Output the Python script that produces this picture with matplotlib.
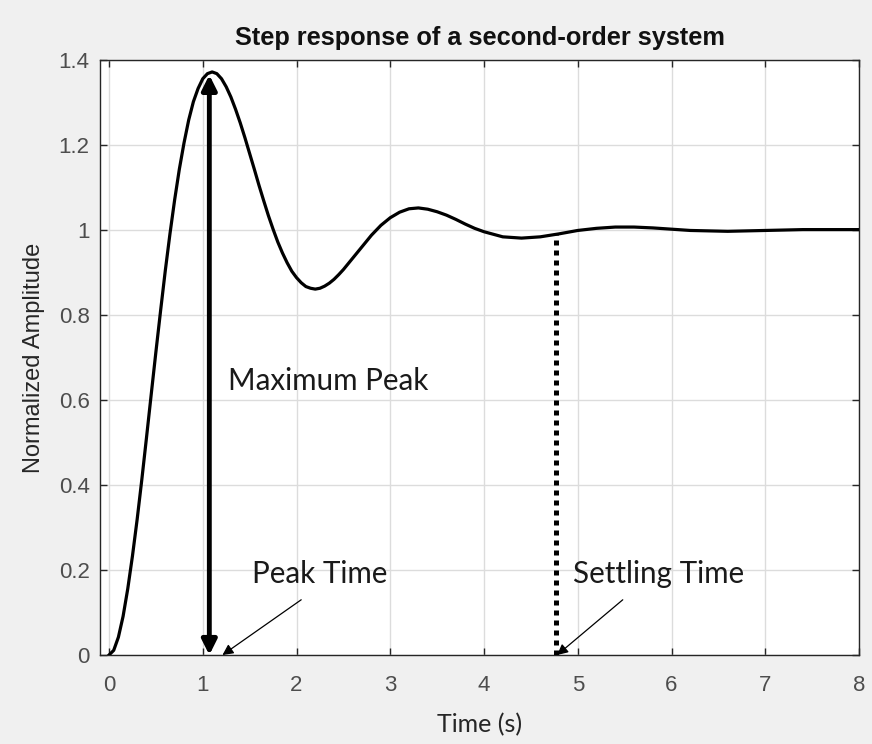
import matplotlib
matplotlib.use("Agg")
import matplotlib.pyplot as plt

# step response samples
t = [0.0, 0.05, 0.1, 0.15, 0.2, 0.25, 0.3, 0.35, 0.4, 0.45,
     0.5, 0.55, 0.6, 0.65, 0.7, 0.75, 0.8, 0.85, 0.9, 0.95,
     1.0, 1.05, 1.1, 1.15, 1.2, 1.25, 1.3, 1.35, 1.4, 1.45,
     1.5, 1.55, 1.6, 1.65, 1.7, 1.75, 1.8, 1.85, 1.9, 1.95,
     2.0, 2.05, 2.1, 2.15, 2.2, 2.25, 2.3, 2.35, 2.4, 2.45,
     2.5, 2.6, 2.7, 2.8, 2.9, 3.0, 3.1, 3.2, 3.3, 3.4,
     3.5, 3.6, 3.7, 3.8, 3.9, 4.0, 4.2, 4.4, 4.6, 4.8,
     5.0, 5.2, 5.4, 5.6, 5.8, 6.0, 6.2, 6.4, 6.6, 6.8,
     7.0, 7.2, 7.4, 7.6, 7.8, 8.0]
amp = [0.0, 0.011, 0.042, 0.091, 0.156, 0.233, 0.319, 0.413, 0.512, 0.613,
       0.713, 0.810, 0.904, 0.991, 1.071, 1.143, 1.205, 1.259, 1.302, 1.333,
       1.356, 1.368, 1.372, 1.368, 1.356, 1.337, 1.313, 1.284, 1.252, 1.217,
       1.180, 1.143, 1.105, 1.069, 1.034, 1.002, 0.972, 0.946, 0.923, 0.903,
       0.888, 0.876, 0.867, 0.863, 0.861, 0.863, 0.868, 0.875, 0.884, 0.895,
       0.907, 0.934, 0.961, 0.988, 1.011, 1.029, 1.042, 1.050, 1.052, 1.049,
       1.043, 1.035, 1.025, 1.014, 1.004, 0.996, 0.984, 0.981, 0.984, 0.991,
       0.999, 1.004, 1.007, 1.007, 1.005, 1.002, 0.999, 0.998, 0.997, 0.998,
       0.999, 1.000, 1.001, 1.001, 1.001, 1.001]

peak_t = 1.07
peak_amp = 1.365
settle_t = 4.77
settle_amp = 0.99

x_ticks = [0, 1, 2, 3, 4, 5, 6, 7, 8]
y_ticks = [0, 0.2, 0.4, 0.6, 0.8, 1.0, 1.2, 1.4]
y_labels = ["0", "0.2", "0.4", "0.6", "0.8", "1", "1.2", "1.4"]

fig = plt.figure(figsize=(8.72, 7.44), dpi=100, facecolor="#f0f0f0")
ax = fig.add_axes([0.1147, 0.1196, 0.8704, 0.7997])
ax.set_facecolor("white")

ax.plot(t, amp, color="black", lw=2.3, solid_joinstyle="round", zorder=3)

# maximum peak double arrow
ax.annotate("", xy=(peak_t, peak_amp), xytext=(peak_t, 0.0),
            arrowprops=dict(arrowstyle="<|-|>", color="black", lw=3.5,
                            mutation_scale=22, shrinkA=0, shrinkB=0), zorder=4)
# settling time dotted line
ax.plot([settle_t, settle_t], [0, settle_amp], color="black", lw=3.6,
        linestyle=(0, (1, 1)), zorder=4)

ann_font = dict(family=["Lato", "DejaVu Sans"], fontsize=21.3, color="#1a1a1a")
ax.text(1.27, 0.645, "Maximum Peak", va="center", ha="left", **ann_font)
ax.text(1.52, 0.19, "Peak Time", va="center", ha="left", **ann_font)
ax.text(4.95, 0.19, "Settling Time", va="center", ha="left", **ann_font)

thin = dict(arrowstyle="-|>", color="black", lw=0.9, mutation_scale=16,
            shrinkA=0, shrinkB=0)
ax.annotate("", xy=(1.21, 0.0), xytext=(2.05, 0.13), arrowprops=thin, zorder=4)
ax.annotate("", xy=(4.78, 0.0), xytext=(5.48, 0.13), arrowprops=thin, zorder=4)

ax.set_xlim(-0.096, 8)
ax.set_ylim(0, 1.4)
ax.set_xticks(x_ticks)
ax.set_yticks(y_ticks)
ax.set_yticklabels(y_labels)
ax.grid(True, color="#dcdcdc", lw=1.0)
ax.set_axisbelow(True)
ax.tick_params(direction="in", top=True, right=True, length=5, width=1,
               colors="#262626", labelcolor="#4d4d4d", labelsize=16)
ax.tick_params(axis="y", pad=7.5)
ax.tick_params(axis="x", pad=14.5)
for lab in ax.get_xticklabels() + ax.get_yticklabels():
    lab.set_family("Liberation Sans")
for s in ax.spines.values():
    s.set_color("#262626")
    s.set_linewidth(1.0)

ax.set_title("Step response of a second-order system", fontsize=18.3,
             fontweight="bold", family="Liberation Sans", color="#111111", pad=11)
ax.set_ylabel("Normalized Amplitude", fontsize=17, family="Liberation Sans",
              color="#262626", labelpad=10)
ax.set_xlabel("Time (s)", fontsize=18, family=["Lato", "DejaVu Sans"],
              color="#262626", labelpad=12)

fig.savefig("out.png", dpi=100, facecolor=fig.get_facecolor())
